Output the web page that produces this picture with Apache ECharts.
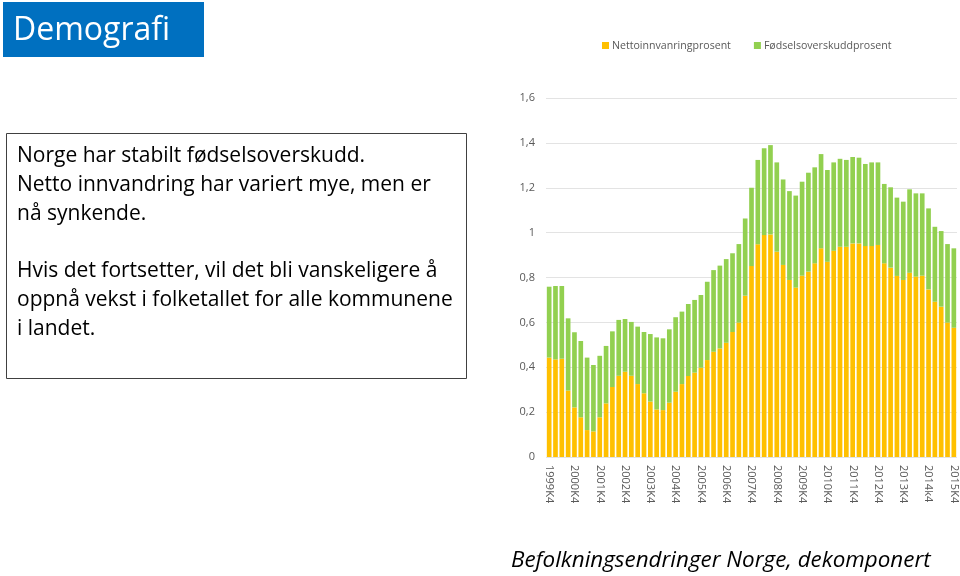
<!DOCTYPE html>
<html><head><meta charset="utf-8">
<script src="https://cdn.jsdelivr.net/npm/echarts@6/dist/echarts.min.js"></script>
<style>html,body{margin:0;padding:0;background:#fff}#c{width:960px;height:576px}</style>
</head><body><div id="c"></div>
<script>
var categories = [];
(function(){
  categories.push('1999K4');
  for (var y = 2000; y <= 2015; y++) for (var q = 1; q <= 4; q++) categories.push(y + (y === 2014 && q === 4 ? 'k' : 'K') + q);
})();
var totals = [0.759,0.762,0.762,0.618,0.556,0.517,0.443,0.410,0.451,0.495,0.560,0.611,0.615,0.602,0.581,0.557,0.548,0.533,0.529,0.569,0.623,
  0.648,0.682,0.700,0.722,0.781,0.833,0.853,0.882,0.908,0.949,1.063,1.200,1.324,1.376,1.390,1.313,1.237,1.185,1.165,1.227,
  1.267,1.291,1.350,1.279,1.313,1.329,1.324,1.337,1.334,1.306,1.313,1.313,1.217,1.202,1.156,1.138,1.193,1.175,1.175,1.108,1.026,1.007,0.949,0.930];
var netto = [0.443,0.435,0.438,0.296,0.221,0.177,0.120,0.114,0.177,0.239,0.312,0.362,0.380,0.362,0.325,0.284,0.247,0.212,0.209,0.242,0.291,
  0.325,0.361,0.376,0.398,0.432,0.469,0.484,0.509,0.557,0.599,0.719,0.851,0.948,0.989,0.992,0.915,0.856,0.789,0.755,0.808,
  0.826,0.863,0.930,0.870,0.919,0.937,0.937,0.952,0.952,0.940,0.940,0.945,0.863,0.844,0.807,0.789,0.821,0.804,0.808,0.747,0.692,0.670,0.599,0.576];
var fodsel = totals.map(function(t,i){ return +(t - netto[i]).toFixed(3); });
var seriesNames = ['Nettoinnvanringprosent','Fødselsoverskuddprosent'];
var yTicks = {min:0, max:1.6, interval:0.2};

var chart = echarts.init(document.getElementById('c'));
var fam = '"Open Sans", sans-serif';
chart.setOption({
  animation:false,
  textStyle:{fontFamily:fam},
  legend:{left:597, top:35, itemWidth:7, itemHeight:7, itemGap:23, icon:'rect',
    textStyle:{color:'#595959', fontSize:10.6, fontFamily:fam, padding:[0,0,0,-2]}, data:seriesNames},
  grid:{left:546, right:3, top:98, bottom:119},
  xAxis:{type:'category', data:categories,
    axisLine:{show:false}, axisTick:{show:false},
    axisLabel:{interval:3, rotate:-90, color:'#595959', fontSize:11, margin:8, fontFamily:fam}},
  yAxis:{type:'value', min:yTicks.min, max:yTicks.max, interval:yTicks.interval,
    axisLine:{show:false}, axisTick:{show:false},
    splitLine:{lineStyle:{color:'#e3e3e3', width:1}},
    axisLabel:{color:'#595959', fontSize:11, margin:11, fontFamily:fam,
      formatter:function(v){ return String(Math.round(v*10)/10).replace('.',','); }}},
  series:[
    {name:seriesNames[0], type:'bar', stack:'a', data:netto, barCategoryGap:'26%', itemStyle:{color:'#FFC000'}},
    {name:seriesNames[1], type:'bar', stack:'a', data:fodsel, barCategoryGap:'26%', itemStyle:{color:'#92D050'}}
  ],
  graphic:[
    {type:'rect', shape:{x:3,y:2,width:201,height:55}, style:{fill:'#0070C0'}},
    {type:'text', left:13, top:15, style:{text:'Demografi', fill:'#fff', font:'32px ' + fam}},
    {type:'rect', shape:{x:6.5,y:133.5,width:460,height:245}, style:{fill:'#fff', stroke:'#404040', lineWidth:1}},
    {type:'text', left:17, top:142, style:{text:'Norge har stabilt fødselsoverskudd.\nNetto innvandring har variert mye, men er\nnå synkende.\n\nHvis det fortsetter, vil det bli vanskeligere å\noppnå vekst i folketallet for alle kommunene\ni landet.',
      fill:'#000', font:'21px ' + fam, lineHeight:28.7}},
    {type:'text', left:511, top:550, style:{text:'Befolkningsendringer Norge, dekomponert', fill:'#000', font:'italic 22.4px ' + fam}}
  ]
});
</script></body></html>
